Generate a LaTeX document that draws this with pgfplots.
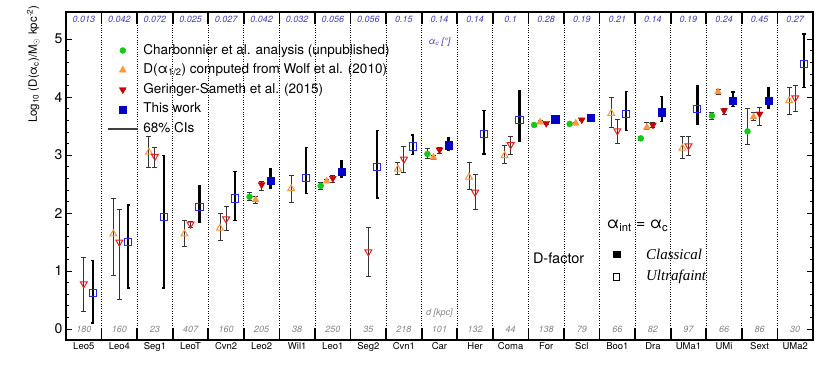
\documentclass[border=0pt]{standalone}
\usepackage{pgfplots}
\pgfplotsset{compat=1.18}
\usepackage{pgfplotstable}
\usepackage{fontspec}
\setmainfont{TeX Gyre Heros}
\newfontfamily\timesf{Liberation Serif}

\definecolor{cgreen}{RGB}{20,200,20}
\definecolor{corange}{RGB}{255,150,60}
\definecolor{cred}{RGB}{200,0,0}
\definecolor{credo}{RGB}{230,30,30}
\definecolor{cblue}{RGB}{0,0,200}
\definecolor{cblueo}{RGB}{40,40,230}
\definecolor{ctop}{RGB}{60,60,180}
\definecolor{cgray}{RGB}{130,130,130}

% category index, alpha_c [deg], distance [kpc]
\pgfplotstableread{
i a d
0 0.013 180
1 0.042 160
2 0.072 23
3 0.025 407
4 0.027 160
5 0.042 205
6 0.032 38
7 0.056 250
8 0.056 35
9 0.15 218
10 0.14 101
11 0.14 132
12 0.1 44
13 0.28 138
14 0.19 79
15 0.21 66
16 0.14 82
17 0.19 97
18 0.24 66
19 0.45 86
20 0.27 30
}\galaxies

% i = galaxy index, y = log10 D, lo/hi = 68% interval
\pgfplotstableread{
i y lo hi
5 2.28 2.22 2.35
7 2.47 2.41 2.53
10 3.02 2.94 3.12
13 3.52 3.49 3.55
14 3.54 3.51 3.57
16 3.29 3.26 3.32
18 3.68 3.62 3.74
19 3.41 3.19 3.81
}\greencl

\pgfplotstableread{
i y lo hi
5 2.23 2.17 2.29
7 2.55 2.52 2.58
10 2.96 2.93 2.99
13 3.57 3.55 3.59
14 3.55 3.53 3.57
16 3.48 3.44 3.56
18 4.09 4.04 4.14
19 3.66 3.59 3.74
}\orangecl

\pgfplotstableread{
i y lo hi
1 1.64 0.93 2.26
2 3.05 2.78 3.32
3 1.64 1.43 1.87
4 1.74 1.52 1.99
6 2.42 2.19 2.65
9 2.76 2.66 2.88
11 2.62 2.40 2.87
12 2.99 2.85 3.16
15 3.72 3.48 3.99
17 3.12 2.94 3.33
20 3.94 3.71 4.17
}\orangeuf

\pgfplotstableread{
i y lo hi
5 2.49 2.39 2.55
7 2.60 2.53 2.65
10 3.09 3.03 3.13
13 3.55 3.53 3.57
14 3.61 3.59 3.63
16 3.52 3.47 3.56
18 3.77 3.70 3.81
19 3.71 3.52 3.82
}\redcl

\pgfplotstableread{
i y lo hi
0 0.78 0.30 1.24
1 1.50 0.51 2.06
2 2.98 2.79 3.13
3 1.81 1.76 1.86
4 1.90 1.70 2.11
8 1.33 0.90 1.76
9 2.93 2.70 3.15
11 2.36 2.07 2.67
12 3.18 3.01 3.33
15 3.42 3.20 3.61
17 3.16 3.00 3.33
20 3.99 3.76 4.20
}\reduf

\pgfplotstableread{
i y lo hi
5 2.56 2.43 2.76
7 2.72 2.61 2.91
10 3.17 3.09 3.30
13 3.62 3.60 3.64
14 3.64 3.62 3.66
16 3.74 3.58 4.01
18 3.94 3.84 4.09
19 3.94 3.80 4.17
}\bluecl

\pgfplotstableread{
i y lo hi
0 0.62 0.10 1.18
1 1.50 0.71 2.14
2 1.93 0.71 2.99
3 2.11 1.84 2.48
4 2.25 1.87 2.72
6 2.61 2.34 3.13
8 2.79 2.26 3.42
9 3.15 3.01 3.35
11 3.36 3.02 3.77
12 3.61 3.24 4.11
15 3.71 3.42 4.10
17 3.80 3.53 4.20
20 4.57 4.17 5.09
}\blueuf

\pgfplotsset{
  thinerr/.style={error bars/y dir=both, error bars/y explicit,
    error bars/error bar style={line width=0.9pt, black!80},
    error bars/error mark options={rotate=90, line width=0.9pt, black!80, mark size=2.5pt}},
  thickerr/.style={error bars/y dir=both, error bars/y explicit,
    error bars/error bar style={line width=2.4pt, black},
    error bars/error mark options={rotate=90, line width=1.4pt, black, mark size=1.6pt}},
}

\begin{document}
\begin{tikzpicture}
\begin{axis}[
  width=747pt, height=328pt, scale only axis,
  xmin=-0.5, xmax=20.5, ymin=-0.19, ymax=5.47,
  axis line style={line width=1.6pt},
  xtick={0,...,20},
  xticklabels={Leo5,Leo4,Seg1,LeoT,Cvn2,Leo2,Wil1,Leo1,Seg2,Cvn1,Car,Her,Coma,For,Scl,Boo1,Dra,UMa1,UMi,Sext,UMa2},
  xtick style={draw=none},
  x tick label style={font=\fontsize{9.5}{11}\selectfont, yshift=1pt},
  extra x ticks={0.5,1.5,...,19.5},
  extra x tick labels={},
  extra x tick style={major tick length=12pt,
    xtick style={draw=black, line width=1.8pt},
    grid=major, major grid style={black, dotted, line width=0.8pt}},
  ytick={0,...,5}, minor y tick num=4,
  major tick length=6pt, minor tick length=3pt,
  ytick style={black, line width=0.8pt},
  y tick label style={font=\fontsize{14}{16}\selectfont},
  /pgf/number format/assume math mode=true,
  ylabel={Log\textsubscript{10} (D(α\textsubscript{c})/M$_\odot$ kpc\textsuperscript{-2})},
  ylabel style={at={(rel axis cs:-0.044,0.841)}, anchor=center,
    font=\fontsize{11.5}{13}\selectfont},
  clip=false,
  legend cell align=left,
  legend image code/.code={\draw[mark repeat=2,mark phase=2,#1]
    plot coordinates {(0pt,0pt)(15pt,0pt)(30pt,0pt)};},
  legend style={draw=none, fill=none, at={(rel axis cs:0.0549,0.903)},
    anchor=north west, inner sep=0pt, font=\fontsize{13.5}{15}\selectfont,
    row sep=6.6pt, column sep=5pt,
    nodes={inner sep=0pt, text height=10pt, text depth=3pt}},
]
\addlegendimage{only marks, mark=*, mark size=3pt, cgreen}
\addlegendentry{Charbonnier et al. analysis (unpublished)}
\addlegendimage{only marks, mark=triangle*, mark size=4pt, corange}
\addlegendentry{D(α\textsubscript{1/2}) computed from Wolf et al. (2010)}
\addlegendimage{only marks, mark=triangle*, mark size=4pt, cred, mark options={rotate=180}}
\addlegendentry{Geringer-Sameth et al. (2015)}
\addlegendimage{only marks, mark=square*, mark size=3.6pt, cblue}
\addlegendentry{This work}
\addlegendimage{line width=1.2pt, black!75}
\addlegendentry{68\% CIs}

% Charbonnier et al. (classical only)
\addplot[forget plot, only marks, mark=*, mark size=3pt, cgreen, thinerr]
  table[x expr=\thisrow{i}-0.34, y=y,
    y error plus expr=\thisrow{hi}-\thisrow{y},
    y error minus expr=\thisrow{y}-\thisrow{lo}] {\greencl};
% Wolf et al.
\addplot[forget plot, only marks, mark=triangle*, mark size=4pt, corange, thinerr]
  table[x expr=\thisrow{i}-0.17, y=y,
    y error plus expr=\thisrow{hi}-\thisrow{y},
    y error minus expr=\thisrow{y}-\thisrow{lo}] {\orangecl};
\addplot[forget plot, only marks, mark=triangle, mark size=4pt, corange, thinerr,
  mark options={fill=white, draw=corange, line width=1pt}]
  table[x expr=\thisrow{i}-0.17, y=y,
    y error plus expr=\thisrow{hi}-\thisrow{y},
    y error minus expr=\thisrow{y}-\thisrow{lo}] {\orangeuf};
% Geringer-Sameth et al.
\addplot[forget plot, only marks, mark=triangle*, mark size=4pt, cred, thinerr,
  mark options={rotate=180}]
  table[x=i, y=y,
    y error plus expr=\thisrow{hi}-\thisrow{y},
    y error minus expr=\thisrow{y}-\thisrow{lo}] {\redcl};
\addplot[forget plot, only marks, mark=triangle, mark size=4pt, credo, thinerr,
  mark options={rotate=180, fill=white, draw=credo, line width=1pt}]
  table[x=i, y=y,
    y error plus expr=\thisrow{hi}-\thisrow{y},
    y error minus expr=\thisrow{y}-\thisrow{lo}] {\reduf};
% This work
\addplot[forget plot, only marks, mark=square*, mark size=3.6pt, cblue, thickerr]
  table[x expr=\thisrow{i}+0.25, y=y,
    y error plus expr=\thisrow{hi}-\thisrow{y},
    y error minus expr=\thisrow{y}-\thisrow{lo}] {\bluecl};
\addplot[forget plot, only marks, mark=square, mark size=3.6pt, cblueo, thickerr,
  mark options={fill=white, draw=cblueo, line width=1pt}]
  table[x expr=\thisrow{i}+0.25, y=y,
    y error plus expr=\thisrow{hi}-\thisrow{y},
    y error minus expr=\thisrow{y}-\thisrow{lo}] {\blueuf};

% alpha_c along the top, distance along the bottom
\addplot[forget plot, draw=none, mark=none, nodes near coords,
  point meta=explicit symbolic,
  nodes near coords style={anchor=center, text=ctop,
    font=\fontsize{9}{10}\selectfont\itshape}]
  table[x=i, y expr=5.34, meta=a] {\galaxies};
\addplot[forget plot, draw=none, mark=none, nodes near coords,
  point meta=explicit symbolic,
  nodes near coords style={anchor=center, text=cgray,
    font=\fontsize{9}{10}\selectfont\itshape}]
  table[x=i, y expr=0, meta=d] {\galaxies};
\node[text=ctop, font=\fontsize{9}{10}\selectfont\itshape] at (axis cs:10,4.95) {α\textsubscript{c} [°]};
\node[text=cgray, font=\fontsize{9}{10}\selectfont\itshape] at (axis cs:10,0.28) {d [kpc]};

% Symbol key
\node[font=\fontsize{16}{18}\selectfont] at (axis cs:15.57,1.78) {α\textsubscript{int} = α\textsubscript{c}};
\node[anchor=west, font=\fontsize{14.5}{16}\selectfont] at (axis cs:12.53,1.22) {D-factor};
\addplot[forget plot, only marks, mark=square*, mark size=3.2pt, black] coordinates {(14.98,1.29)};
\addplot[forget plot, only marks, mark=square, mark size=3.2pt, black,
  mark options={fill=white, draw=black, line width=1pt}] coordinates {(14.98,0.90)};
\node[anchor=west, font=\timesf\itshape\fontsize{15}{17}\selectfont] at (axis cs:15.71,1.29) {Classical};
\node[anchor=west, font=\timesf\itshape\fontsize{15}{17}\selectfont] at (axis cs:15.71,0.90) {Ultrafaint};

\path (rel axis cs:-0.0884,-0.0945) rectangle (rel axis cs:1.0228,1.0366);
\end{axis}
\end{tikzpicture}
\end{document}
